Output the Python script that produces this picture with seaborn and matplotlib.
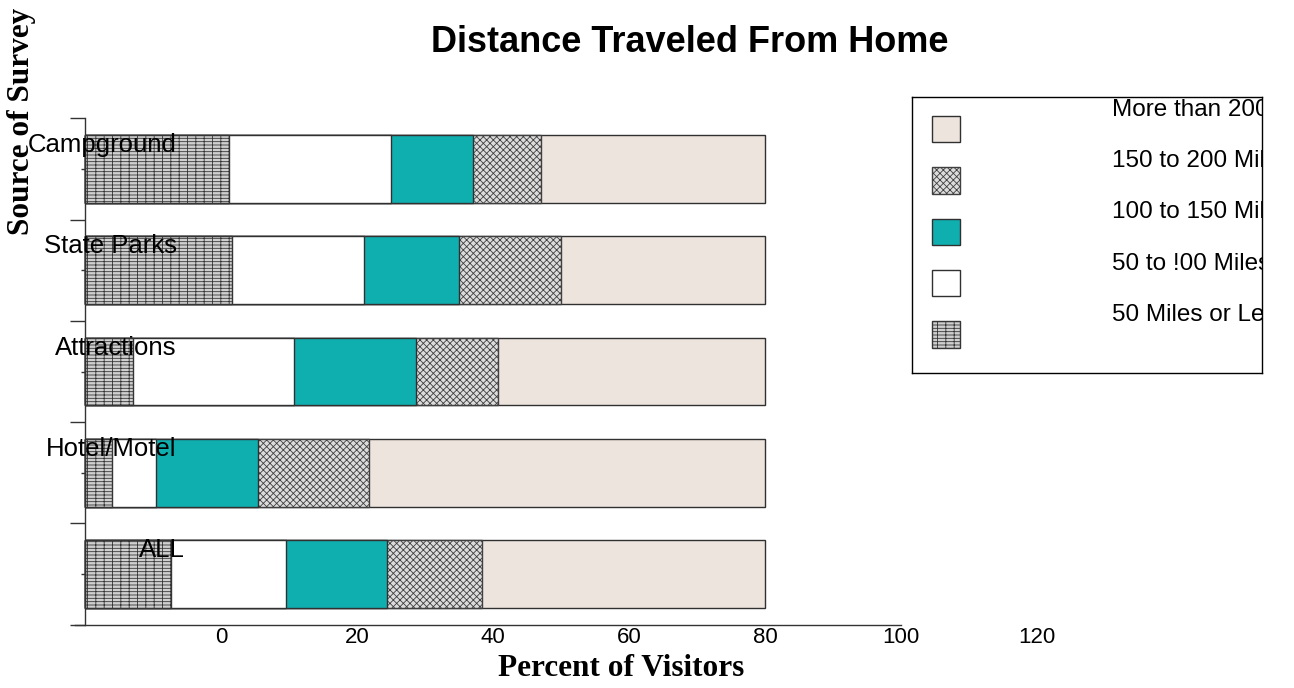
import numpy as np
import pandas as pd
import matplotlib
matplotlib.use("Agg")
import matplotlib.pyplot as plt
from matplotlib.patches import Rectangle
import seaborn as sns

# Survey sources (top to bottom) and share of visitors per distance band (%)
sources = ["Campground", "State Parks", "Attractions", "Hotel/Motel", "ALL"]
miles_50_or_less = [21.2, 21.6, 7.1, 3.9, 12.6]
miles_50_to_100 = [23.8, 19.4, 23.7, 6.5, 16.9]
miles_100_to_150 = [12.1, 14.0, 17.9, 15.1, 14.9]
miles_150_to_200 = [10.0, 15.0, 12.1, 16.2, 14.0]
miles_over_200 = [32.9, 30.0, 39.2, 58.3, 41.6]

band_labels = ["50 Miles or Less", "50 to !00 Miles", "100 to 150 Miles",
               "150 to 200 Miles", "More than 200 Miles"]
tick_labels = ["0", "20", "40", "60", "80", "100", "120"]

bands = [miles_50_or_less, miles_50_to_100, miles_100_to_150,
         miles_150_to_200, miles_over_200]
styles = [
    dict(color="#cfcfcf", hatch="-----||", edgecolor="#353535"),
    dict(color="#ffffff", hatch=None, edgecolor="#303030"),
    dict(color="#10afaf", hatch=None, edgecolor="#303030"),
    dict(color="#dcdcdc", hatch="xxxxx", edgecolor="#404040"),
    dict(color="#ede4de", hatch=None, edgecolor="#303030"),
]

sns.set_style("white")
plt.rcParams["font.family"] = ["Liberation Sans", "DejaVu Sans"]
plt.rcParams["text.color"] = "black"
plt.rcParams["axes.labelcolor"] = "black"
plt.rcParams["hatch.linewidth"] = 0.6

W, H = 1294, 688
fig = plt.figure(figsize=(W / 100, H / 100), dpi=100)

px_per_unit = 6.8
x_lo, x_hi = -1.5, 142
ax_left, ax_top, ax_bottom = 85 + x_lo * px_per_unit, 118.4, 624.6
ax_w = (x_hi - x_lo) * px_per_unit
ax = fig.add_axes([ax_left / W, 1 - ax_bottom / H, ax_w / W, (ax_bottom - ax_top) / H])

# stacked bars: draw cumulative totals widest first so each band shows its own segment
df = pd.DataFrame({"source": sources})
cum = np.cumsum(np.array(bands), axis=0)
for k in range(len(bands) - 1, -1, -1):
    df["total"] = cum[k]
    st = styles[k]
    sns.barplot(data=df, x="total", y="source", orient="h", ax=ax,
                color=st["color"], saturation=1, width=0.67,
                edgecolor=st["edgecolor"], linewidth=1.0, hatch=st["hatch"])

ax.set_xlim(x_lo, x_hi)
ax.set_ylim(4.5, -0.5)
ax.set_xlabel("")
ax.set_ylabel("")

for side in ["top", "right"]:
    ax.spines[side].set_visible(False)
for side in ["left", "bottom"]:
    ax.spines[side].set_color("#333333")
    ax.spines[side].set_linewidth(1.0)
ax.spines["left"].set_position(("data", 0))
ax.spines["bottom"].set_bounds(x_lo, 120)

# x axis: labels sit one major step to the right of their value
ax.set_xticks(np.arange(0, 141, 20))
ax.set_xticklabels([""] + tick_labels)
ax.set_xticks([v for v in np.arange(4, 120, 4) if v % 20 != 0], minor=True)
ax.tick_params(axis="x", which="major", direction="out", length=15, width=1,
               color="#333333", pad=-13, labelsize=16, labelcolor="black")
ax.tick_params(axis="x", which="minor", direction="out", length=4, width=1,
               color="#333333")
xt = ax.xaxis.get_major_ticks()
xt[0].tick1line.set_markersize(9)
xt[-1].tick1line.set_visible(False)
for t in xt:
    t.tick1line.set_zorder(5)

# y axis: long ticks between groups, short ticks at bar centres
ax.set_yticks(np.arange(-0.5, 4.6, 1.0))
ax.set_yticklabels([])
ax.set_yticks(np.arange(0, 5), minor=True)
ax.tick_params(axis="y", which="major", direction="out", length=11, width=1,
               color="#333333", left=True)
ax.tick_params(axis="y", which="minor", direction="out", length=3, width=1,
               color="#333333", left=True)

# category names drawn over the bars
label_x = [13.5, 13.5, 13.5, 13.5, 14.7]
for i, (name, lx) in enumerate(zip(sources, label_x)):
    ax.text(lx, i - 0.235, name, ha="right", va="center", fontsize=18.5,
            color="black", clip_on=False)

fig.text(690 / W, 1 - 42 / H, "Distance Traveled From Home", ha="center",
         va="center", fontsize=26, fontweight="bold", color="black")
fig.text(621 / W, 1 - 668 / H, "Percent of Visitors", ha="center", va="center",
         fontsize=22.5, fontweight="bold", family="Liberation Serif", color="black")
fig.text(22 / W, 1 - 121 / H, "Source of Survey", ha="center", va="center",
         rotation=90, fontsize=22.5, fontweight="bold", family="Liberation Serif",
         color="black")

# legend panel with clipped labels
lx0, ly0, lx1, ly1 = 912, 97, 1262, 373
lax = fig.add_axes([lx0 / W, 1 - ly1 / H, (lx1 - lx0) / W, (ly1 - ly0) / H])
lax.set_xlim(0, lx1 - lx0)
lax.set_ylim(ly1 - ly0, 0)
lax.set_xticks([])
lax.set_yticks([])
for sp in lax.spines.values():
    sp.set_visible(True)
    sp.set_color("black")
    sp.set_linewidth(1.0)
for j, k in enumerate(range(len(bands) - 1, -1, -1)):
    st = styles[k]
    y0 = 18.7 + j * 51.4
    lax.add_patch(Rectangle((19.7, y0), 28.3, 26.5, facecolor=st["color"],
                            edgecolor=st["edgecolor"], hatch=st["hatch"], lw=1.0))
    lax.text(199.7, y0 - 6, band_labels[k], ha="left", va="center",
             fontsize=17.5, color="black", clip_on=True)

fig.savefig("out.png", dpi=100)
